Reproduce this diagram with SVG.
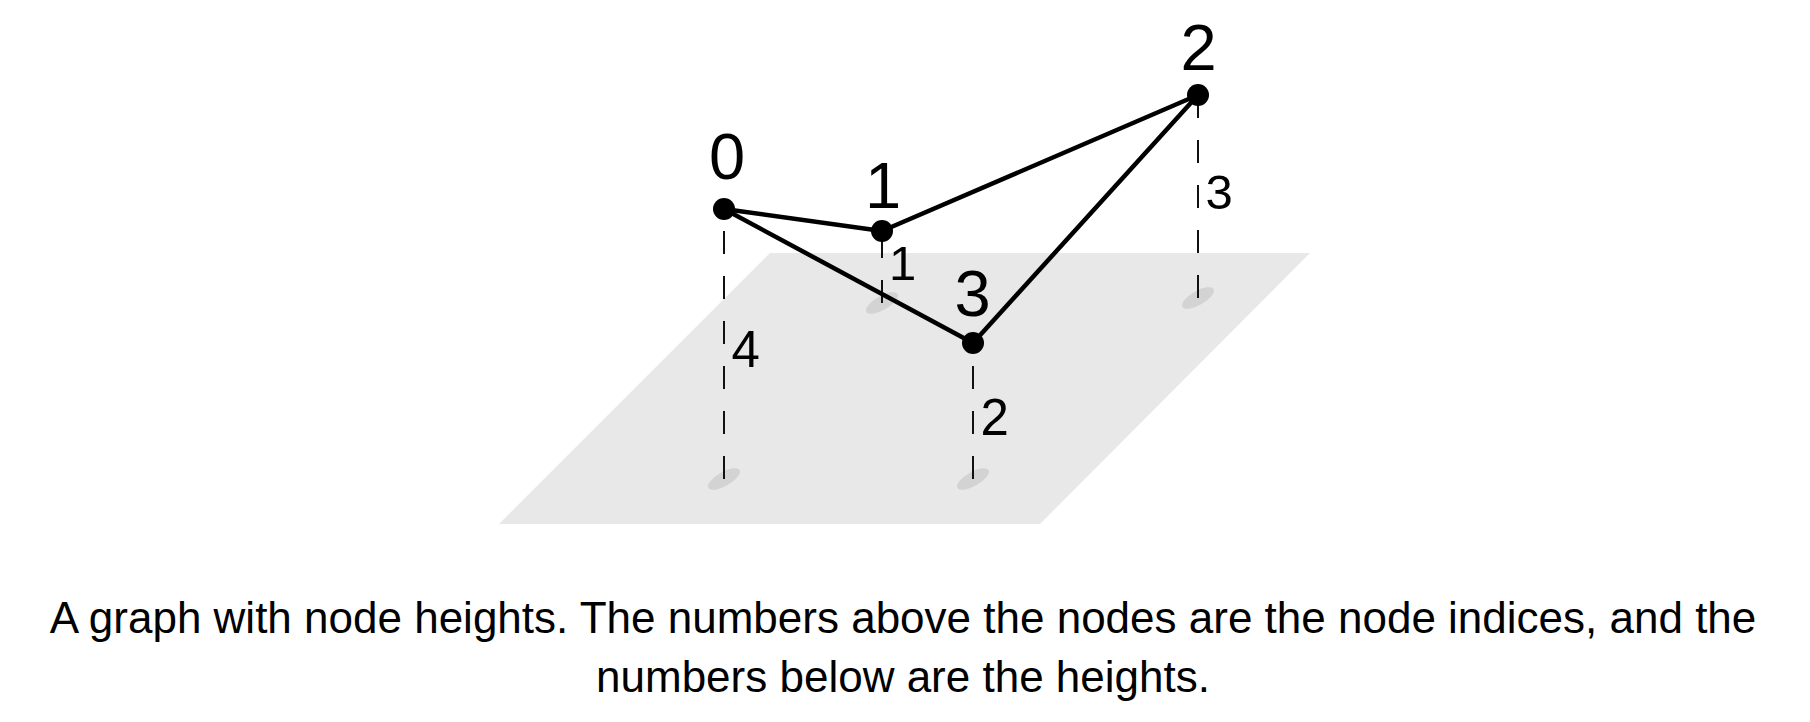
<svg xmlns="http://www.w3.org/2000/svg" width="1810" height="722" viewBox="0 0 1810 722">
<style>
.plane{fill:#e8e8e8}
.shadow{fill:#d3d3d3}
.drop{stroke:#111;stroke-width:2;stroke-dasharray:23 22;fill:none}
.edge{stroke:#000;stroke-width:4.5;fill:none;stroke-linecap:round}
.node{fill:#000}
.idx{font-family:"Liberation Sans",Arial,sans-serif;font-size:65px;fill:#000;text-anchor:middle}
.h{font-family:"Liberation Sans",Arial,sans-serif;fill:#000}
.cap{font-family:"Liberation Sans",Arial,sans-serif;font-size:44px;fill:#000;text-anchor:middle}
</style>
<rect width="1810" height="722" fill="#fff"/>
<polygon class="plane" points="770,253 1310,253 1040,524 499,524"/>
<g id="shadows">
<ellipse class="shadow" cx="724" cy="479" rx="18" ry="7" transform="rotate(-30 724 479)"/>
<ellipse class="shadow" cx="882" cy="303" rx="18" ry="7" transform="rotate(-30 882 303)"/>
<ellipse class="shadow" cx="1198" cy="298" rx="18" ry="7" transform="rotate(-30 1198 298)"/>
<ellipse class="shadow" cx="973" cy="479" rx="18" ry="7" transform="rotate(-30 973 479)"/>
</g>
<g id="drops">
<line class="drop" x1="724" y1="479" x2="724" y2="209"/>
<line class="drop" x1="882" y1="303" x2="882" y2="231"/>
<line class="drop" x1="1198" y1="298" x2="1198" y2="95"/>
<line class="drop" x1="973" y1="479" x2="973" y2="343"/>
</g>
<g id="connectors">
<line class="edge" x1="724" y1="209" x2="882" y2="231"/>
<line class="edge" x1="724" y1="209" x2="973" y2="343"/>
<line class="edge" x1="882" y1="231" x2="1198" y2="95"/>
<line class="edge" x1="973" y1="343" x2="1198" y2="95"/>
</g>
<g id="node0">
<circle class="node" cx="724" cy="209" r="11"/>
<text class="idx" x="727" y="179">0</text>
<text class="h" x="731.5" y="367" font-size="51">4</text>
</g>
<g id="node1">
<circle class="node" cx="882" cy="231" r="11"/>
<text class="idx" x="883" y="208">1</text>
<text class="h" x="889" y="280" font-size="49">1</text>
</g>
<g id="node2">
<circle class="node" cx="1198" cy="95" r="11"/>
<text class="idx" x="1198.5" y="70">2</text>
<text class="h" x="1205.5" y="209" font-size="49">3</text>
</g>
<g id="node3">
<circle class="node" cx="973" cy="343" r="11"/>
<text class="idx" x="972.5" y="316">3</text>
<text class="h" x="980.5" y="435" font-size="51">2</text>
</g>
<g id="caption">
<text class="cap" x="903" y="633">A graph with node heights. The numbers above the nodes are the node indices, and the</text>
<text class="cap" x="903" y="692">numbers below are the heights.</text>
</g>
</svg>
